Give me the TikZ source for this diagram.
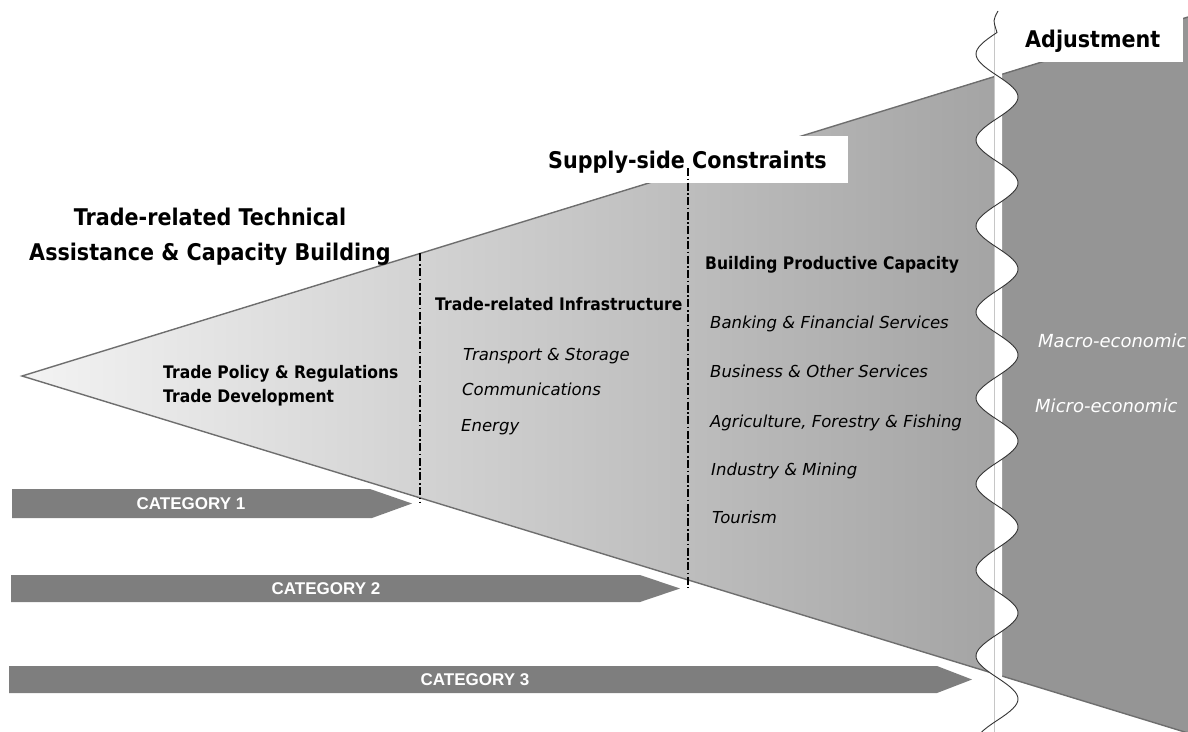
\documentclass[tikz,border=0pt]{standalone}
\usepackage{fontspec}
\setmainfont{DejaVu Sans}
\newfontfamily\cbf[FakeStretch=0.9]{DejaVu Sans}
\newfontfamily\catfont{Liberation Sans}
\definecolor{fl}{HTML}{F3F3F3}
\definecolor{fm}{HTML}{D8D8D8}
\definecolor{fr}{HTML}{A4A4A4}
\definecolor{fd}{HTML}{959595}
\definecolor{catc}{HTML}{7E7E7E}
\definecolor{edgec}{HTML}{6E6E6E}
\begin{document}
\begin{tikzpicture}[x=1pt,y=-1pt,
  edge/.style={draw=edgec,line width=1.4pt,line join=miter},
  dashdotline/.style={draw=black,line width=1.6pt,dash pattern=on 8pt off 2.5pt on 1.6pt off 2.5pt},
  catbar/.style={fill=catc},
  cattext/.style={inner sep=0pt,text=white,font=\catfont\bfseries\fontsize{17}{20}\selectfont},
  title/.style={inner sep=0pt,anchor=base,font=\cbf\bfseries\fontsize{23}{27}\selectfont},
  head/.style={inner sep=0pt,anchor=base west,font=\cbf\bfseries\fontsize{23}{27}\selectfont},
  itemb/.style={inner sep=0pt,anchor=base west,font=\cbf\bfseries\fontsize{17.3}{20}\selectfont},
  itemi/.style={inner sep=0pt,anchor=base west,font=\itshape\fontsize{16.5}{20}\selectfont},
  itemw/.style={inner sep=0pt,anchor=base west,text=white,font=\itshape\fontsize{18}{21}\selectfont},
  lobefill/.style={fill=white},
  lobeline/.style={draw=black!80,line width=0.9pt}
]
\useasboundingbox (0,0) rectangle (1188,731);

% funnel geometry
\coordinate (apex) at (22,376);
\coordinate (tw) at (997,75.7);
\coordinate (bw) at (997,674.4);
\coordinate (tr) at (1188,17);
\coordinate (br) at (1188,733);

\shade[left color=fl,middle color=fm,right color=fr] (apex) -- (tw) -- (bw) -- cycle;
\fill[fd] (tw) -- (tr) -- (br) -- (bw) -- cycle;
\draw[edge] (tr) -- (apex) -- (br);

% white label boxes
\fill[white] (540,136) rectangle (848,183);
\fill[white] (1000,-2) rectangle (1183,62);

% dash-dot dividers
\coordinate (d1t) at (420,253.4);
\coordinate (d1b) at (420,503);
\coordinate (d2t) at (688,168);
\coordinate (d2b) at (688,588);
\draw[dashdotline] (d1t) -- (d1b);
\draw[dashdotline] (d2t) -- (d2b);

% category bars
\fill[catbar] (12,489) -- (370,489) -- (412,503.5) -- (372,518) -- (12,518) -- cycle;
\fill[catbar] (11,575) -- (640,575) -- (680,588.5) -- (640,602) -- (11,602) -- cycle;
\fill[catbar] (9,666) -- (937,666) -- (972,679.5) -- (937,693) -- (9,693) -- cycle;
\node[cattext] (c1) at (191,503.5) {CATEGORY 1};
\node[cattext] (c2) at (326,589) {CATEGORY 2};
\node[cattext] (c3) at (475,680) {CATEGORY 3};

% wavy ribbon: white strip plus half-sine lobes alternating left / right
\fill[white] (998,11) -- (994,22) -- (994,740) -- (1002,740) -- (1002,22) -- cycle;
\path[lobefill]
  (997,32.5)  .. controls (969,50.75)   and (969,57.25)   .. (997,75.5)  -- cycle
  (997,75.5)  .. controls (1025,93.75)  and (1025,100.25) .. (997,118.5) -- cycle
  (997,118.5) .. controls (969,136.75)  and (969,143.25)  .. (997,161.5) -- cycle
  (997,161.5) .. controls (1025,179.75) and (1025,186.25) .. (997,204.5) -- cycle
  (997,204.5) .. controls (969,222.75)  and (969,229.25)  .. (997,247.5) -- cycle
  (997,247.5) .. controls (1025,265.75) and (1025,272.25) .. (997,290.5) -- cycle
  (997,290.5) .. controls (969,308.75)  and (969,315.25)  .. (997,333.5) -- cycle
  (997,333.5) .. controls (1025,351.75) and (1025,358.25) .. (997,376.5) -- cycle
  (997,376.5) .. controls (969,394.75)  and (969,401.25)  .. (997,419.5) -- cycle
  (997,419.5) .. controls (1025,437.75) and (1025,444.25) .. (997,462.5) -- cycle
  (997,462.5) .. controls (969,480.75)  and (969,487.25)  .. (997,505.5) -- cycle
  (997,505.5) .. controls (1025,523.75) and (1025,530.25) .. (997,548.5) -- cycle
  (997,548.5) .. controls (969,566.75)  and (969,573.25)  .. (997,591.5) -- cycle
  (997,591.5) .. controls (1025,609.75) and (1025,616.25) .. (997,634.5) -- cycle
  (997,634.5) .. controls (969,652.75)  and (969,659.25)  .. (997,677.5) -- cycle
  (997,677.5) .. controls (1025,695.75) and (1025,702.25) .. (997,720.5) -- cycle
  (997,720.5) .. controls (969,738.75)  and (969,745.25)  .. (997,763.5) -- cycle;
\draw[draw=gray!45,line width=0.6pt] (994,22) -- (994,740);
\path[lobeline]
  (998,11) .. controls (993,20) .. (997,32.5)
  .. controls (969,50.75)   and (969,57.25)   .. (997,75.5)
  .. controls (1025,93.75)  and (1025,100.25) .. (997,118.5)
  .. controls (969,136.75)  and (969,143.25)  .. (997,161.5)
  .. controls (1025,179.75) and (1025,186.25) .. (997,204.5)
  .. controls (969,222.75)  and (969,229.25)  .. (997,247.5)
  .. controls (1025,265.75) and (1025,272.25) .. (997,290.5)
  .. controls (969,308.75)  and (969,315.25)  .. (997,333.5)
  .. controls (1025,351.75) and (1025,358.25) .. (997,376.5)
  .. controls (969,394.75)  and (969,401.25)  .. (997,419.5)
  .. controls (1025,437.75) and (1025,444.25) .. (997,462.5)
  .. controls (969,480.75)  and (969,487.25)  .. (997,505.5)
  .. controls (1025,523.75) and (1025,530.25) .. (997,548.5)
  .. controls (969,566.75)  and (969,573.25)  .. (997,591.5)
  .. controls (1025,609.75) and (1025,616.25) .. (997,634.5)
  .. controls (969,652.75)  and (969,659.25)  .. (997,677.5)
  .. controls (1025,695.75) and (1025,702.25) .. (997,720.5)
  .. controls (969,738.75)  and (969,745.25)  .. (997,763.5);

% titles
\node[title] (t1) at (210,225) {Trade-related Technical};
\node[title] (t2) at (210,260) {Assistance \& Capacity Building};
\node[head] (t3) at (548,168) {Supply-side Constraints};
\node[head] (t4) at (1025,47) {Adjustment};

% column 1
\node[itemb] (a1) at (163,378) {Trade Policy \& Regulations};
\node[itemb] (a2) at (163,402) {Trade Development};

% column 2
\node[itemb] (b0) at (435,310) {Trade-related Infrastructure};
\node[itemi] (b1) at (463,360) {Transport \& Storage};
\node[itemi] (b2) at (462,395) {Communications};
\node[itemi] (b3) at (461,431) {Energy};

% column 3
\node[itemb] (e0) at (705,269) {Building Productive Capacity};
\node[itemi] (e1) at (710,328) {Banking \& Financial Services};
\node[itemi] (e2) at (710,377) {Business \& Other Services};
\node[itemi] (e3) at (710,427) {Agriculture, Forestry \& Fishing};
\node[itemi] (e4) at (711,475) {Industry \& Mining};
\node[itemi] (e5) at (712,523) {Tourism};

% column 4
\node[itemw] (m1) at (1038,347) {Macro-economic};
\node[itemw] (m2) at (1035,412) {Micro-economic};
\end{tikzpicture}
\end{document}
